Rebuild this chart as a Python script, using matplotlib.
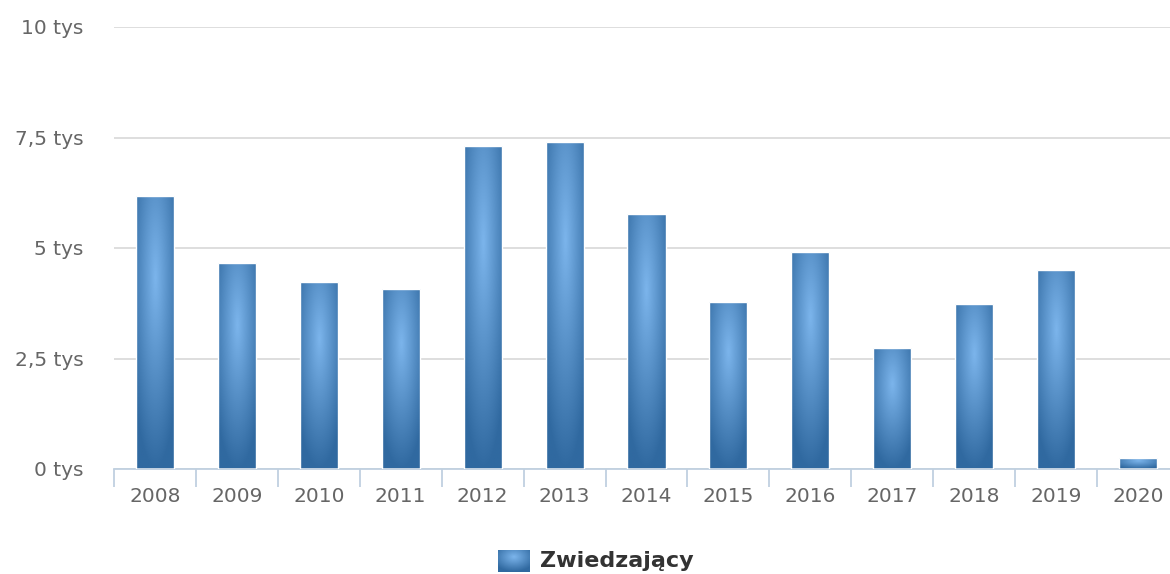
import matplotlib
matplotlib.use("Agg")
import matplotlib.pyplot as plt
import numpy as np

years = ["2008", "2009", "2010", "2011", "2012", "2013", "2014",
         "2015", "2016", "2017", "2018", "2019", "2020"]
visitors = [6180, 4660, 4230, 4070, 7310, 7400, 5770,
            3780, 4910, 2740, 3730, 4500, 250]
y_ticks = [0, 2500, 5000, 7500, 10000]
y_labels = ["0 tys", "2,5 tys", "5 tys", "7,5 tys", "10 tys"]
series_name = "Zwiedzający"

LIGHT = np.array([124, 181, 236]) / 255.0
DARK = np.array([48, 105, 160]) / 255.0


def gradient_image(n_rows=120, n_cols=40):
    # radial gradient in bounding-box units, centre a bit above the middle
    u = np.linspace(0, 1, n_cols)[None, :]
    v = np.linspace(0, 1, n_rows)[:, None]
    t = np.clip(np.sqrt((u - 0.5) ** 2 + (v - 0.3) ** 2) / 0.7, 0, 1)
    return LIGHT[None, None, :] * (1 - t[..., None]) + DARK[None, None, :] * t[..., None]


fig = plt.figure(figsize=(11.7, 5.74), dpi=100)
# plot area runs a little past the right edge of the image, as in the original
ax = fig.add_axes([114 / 1170, 1 - 469 / 574, (1179 - 114) / 1170, (469 - 27) / 574])

x = np.arange(len(years))
bars = ax.bar(x, visitors, width=0.465, facecolor="none", edgecolor="white",
              linewidth=1, zorder=3)
img = gradient_image()
for b in bars:
    x0, h, w = b.get_x(), b.get_height(), b.get_width()
    im = ax.imshow(img, extent=(x0, x0 + w, 0, h), aspect="auto",
                   origin="upper", zorder=2, interpolation="bilinear")
    im.set_clip_path(b)

ax.set_xlim(-0.5, len(years) - 0.5)
ax.set_ylim(0, 10000)

ax.set_yticks(y_ticks)
ax.set_yticklabels(y_labels)
ax.tick_params(axis="y", length=0, pad=22, labelsize=14.5, labelcolor="#666666")
ax.grid(axis="y", color="#D8D8D8", linewidth=1.2, zorder=0)
ax.set_axisbelow(True)

ax.set_xticks(np.arange(len(years) + 1) - 0.5)
ax.set_xticklabels([])
ax.set_xticks(x, minor=True)
ax.set_xticklabels(years, minor=True)
ax.tick_params(axis="x", which="major", length=13, width=1.3, color="#C0D0E0",
               direction="out")
ax.tick_params(axis="x", which="minor", length=0, pad=13, labelsize=14.5,
               labelcolor="#666666")

for side in ("top", "right", "left"):
    ax.spines[side].set_visible(False)
ax.spines["bottom"].set_color("#C0D0E0")
ax.spines["bottom"].set_linewidth(1.3)

# legend: gradient swatch + bold label
leg_ax = fig.add_axes([498 / 1170, 1 - 572 / 574, 32 / 1170, 22 / 574])
leg_ax.imshow(gradient_image(22, 32), aspect="auto", interpolation="bilinear")
leg_ax.axis("off")
fig.text(540 / 1170, 1 - 561 / 574, series_name, fontsize=16, fontweight="bold",
         color="#333333", va="center", ha="left")

fig.savefig("out.png")
plt.close(fig)
